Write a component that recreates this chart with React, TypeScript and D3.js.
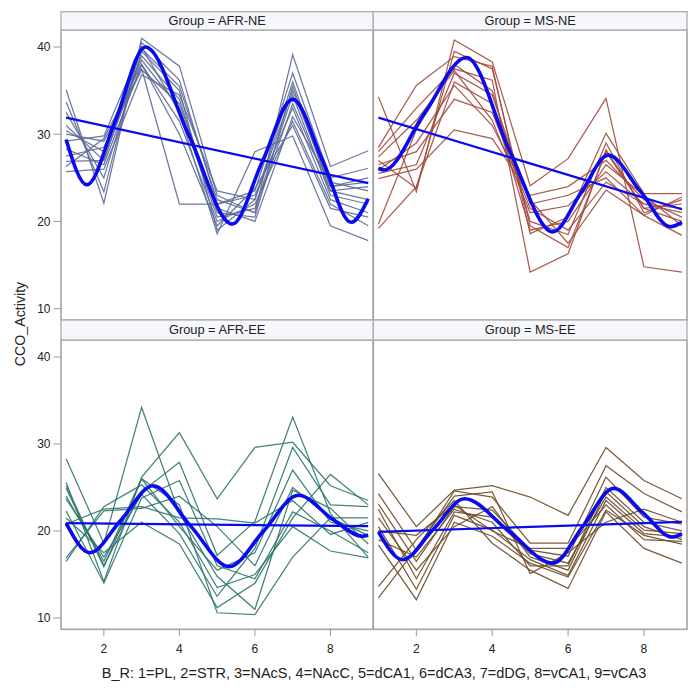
import React from "react";
import * as d3 from "d3";

// ---------- data ----------
const xValues = [1, 2, 3, 4, 5, 6, 7, 8, 9];
const groupNames = ["AFR-NE", "MS-NE", "AFR-EE", "MS-EE"];
const groupColors = ["#5d6a97", "#a24a3e", "#2d766b", "#6a4a26"];
const yTicks = [10, 20, 30, 40];
const xTicks = [2, 4, 6, 8];
const xAxisTitle =
  "B_R: 1=PL, 2=STR, 3=NAcS, 4=NAcC, 5=dCA1, 6=dCA3, 7=dDG, 8=vCA1, 9=vCA3";
const yAxisTitle = "CCO_Activity";

// subject profiles (values at B_R = 1..9)
const afrNE = [
  [35.1, 22.1, 41.0, 37.8, 23.0, 21.0, 39.1, 26.3, 28.1],
  [33.7, 23.4, 40.5, 36.2, 22.0, 23.5, 37.0, 25.0, 26.1],
  [32.5, 25.0, 39.5, 35.0, 19.0, 22.5, 36.0, 24.0, 25.0],
  [31.0, 27.0, 39.0, 34.0, 21.0, 20.5, 35.5, 23.5, 24.0],
  [30.4, 28.0, 38.5, 33.0, 20.5, 21.5, 34.5, 23.0, 22.0],
  [30.0, 29.2, 37.5, 22.0, 22.0, 23.0, 33.0, 22.5, 21.0],
  [29.2, 29.8, 40.0, 32.5, 18.6, 28.0, 29.8, 19.5, 17.8],
  [28.3, 26.5, 38.0, 31.5, 20.0, 22.0, 31.5, 22.0, 19.5],
  [27.5, 28.5, 37.4, 33.5, 21.5, 20.0, 32.0, 24.5, 23.5],
  [26.9, 27.0, 39.8, 35.5, 22.5, 21.0, 33.5, 23.5, 22.5],
  [26.3, 29.5, 38.0, 30.0, 19.5, 23.8, 31.0, 21.5, 20.5],
  [25.7, 26.0, 36.8, 34.5, 23.5, 22.5, 35.0, 24.0, 24.5],
];
const msNE = [
  [34.3, 23.4, 40.8, 38.3, 24.1, 27.2, 34.1, 14.8, 14.2],
  [28.5, 35.6, 38.9, 37.8, 18.6, 20.5, 30.1, 23.2, 23.2],
  [28.0, 33.0, 37.5, 36.2, 14.2, 16.3, 28.2, 21.5, 22.0],
  [27.4, 31.6, 37.3, 31.6, 21.0, 21.8, 25.7, 22.0, 21.0],
  [25.9, 29.0, 35.6, 31.0, 22.5, 17.5, 23.6, 20.7, 18.4],
  [24.9, 26.0, 30.5, 29.5, 23.0, 24.0, 27.0, 22.5, 20.5],
  [19.7, 30.5, 38.0, 35.0, 20.0, 18.5, 29.0, 21.0, 22.5],
  [19.2, 24.0, 36.0, 33.5, 19.0, 20.0, 26.5, 23.0, 19.5],
  [26.5, 28.0, 34.0, 32.5, 21.5, 19.0, 24.5, 22.0, 21.5],
  [27.0, 23.8, 39.5, 37.5, 19.5, 17.0, 28.0, 21.5, 20.0],
  [25.5, 26.5, 37.0, 34.5, 22.0, 23.0, 25.0, 20.7, 22.8],
];
const afrEE = [
  [28.3, 18.6, 34.2, 22.0, 14.8, 11.0, 24.7, 22.6, 18.5],
  [25.6, 14.2, 26.2, 31.3, 23.7, 29.6, 30.2, 25.2, 23.5],
  [25.2, 16.0, 24.5, 27.9, 17.2, 21.1, 33.1, 22.0, 17.0],
  [24.9, 15.9, 26.0, 23.0, 10.6, 10.4, 17.0, 21.5, 21.5],
  [23.7, 17.0, 24.2, 19.7, 12.5, 18.0, 29.6, 23.0, 22.8],
  [22.3, 14.0, 23.8, 25.8, 16.0, 14.5, 22.2, 20.0, 17.5],
  [20.8, 22.5, 22.8, 21.5, 21.4, 20.9, 23.5, 19.6, 21.0],
  [16.9, 22.3, 22.6, 24.0, 20.5, 16.0, 25.0, 21.5, 19.5],
  [16.5, 22.8, 25.3, 21.0, 13.5, 15.0, 20.5, 17.7, 16.9],
  [21.5, 17.5, 21.0, 18.5, 11.2, 14.0, 21.5, 26.5, 23.0],
  [24.0, 16.5, 26.0, 20.5, 15.5, 17.5, 27.0, 21.0, 20.0],
];
const msEE = [
  [26.6, 20.5, 24.7, 25.2, 23.9, 21.8, 29.6, 25.8, 23.7],
  [24.3, 17.8, 24.6, 23.9, 18.6, 18.6, 27.5, 24.3, 22.2],
  [23.1, 16.5, 22.8, 22.4, 17.8, 17.1, 26.2, 21.6, 20.8],
  [22.5, 14.5, 22.2, 21.6, 17.4, 16.3, 23.9, 20.1, 19.7],
  [20.5, 13.3, 21.8, 20.1, 16.7, 14.9, 23.5, 19.7, 19.3],
  [18.4, 12.1, 21.0, 19.4, 16.3, 14.7, 22.4, 19.5, 18.5],
  [13.6, 19.0, 23.5, 18.6, 15.5, 13.4, 22.2, 18.0, 16.3],
  [12.3, 18.0, 24.0, 24.5, 15.1, 17.5, 21.0, 22.5, 21.0],
  [19.0, 17.0, 22.5, 21.0, 16.0, 16.0, 25.0, 21.0, 20.0],
  [21.5, 15.5, 20.5, 22.8, 17.0, 15.5, 24.5, 20.5, 19.0],
  [20.0, 19.5, 23.0, 20.0, 18.0, 18.0, 23.0, 19.0, 18.8],
];
const subjects = [afrNE, msNE, afrEE, msEE];

// penalized spline fit (knot positions and fitted values)
const splineX = [
  [1, 1.55, 2.3, 3.1, 4.25, 5.4, 6.2, 7.0, 7.8, 8.55, 9],
  [1, 1.15, 2.2, 3.32, 4.45, 5.6, 6.33, 7.06, 7.9, 8.7, 9],
  [1, 1.63, 2.46, 3.3, 4.31, 5.32, 6.23, 7.15, 8.1, 8.85, 9],
  [1, 1.64, 2.45, 3.27, 4.43, 5.6, 6.4, 7.2, 7.97, 8.75, 9],
];
const splineY = [
  [29.4, 24.2, 31.5, 40.0, 29.9, 19.7, 26.9, 34.0, 26.9, 19.9, 22.6],
  [26.1, 25.9, 32.3, 38.8, 28.2, 18.8, 23.2, 27.6, 23.5, 19.4, 19.9],
  [20.9, 17.5, 21.3, 25.2, 20.5, 15.9, 20.0, 24.1, 21.2, 19.4, 19.5],
  [19.9, 16.7, 20.2, 23.7, 20.0, 16.3, 20.6, 24.9, 22.1, 19.3, 19.7],
];
// linear regression fit at B_R = 1 and 9
const regStart = [31.9, 31.9, 20.9, 19.9];
const regEnd = [24.4, 21.4, 20.55, 21.05];

// ---------- layout ----------
const W = 700;
const H = 698;
const colX = [61, 373.3, 687];
const rowHeader = [
  [11.7, 30],
  [320, 340],
];
const rowPlot = [
  [30, 320],
  [340, 629.3],
];
const yDomain = [8.7, 41.95];
const xDomain = [0.865, 9.135];
const FONT = "'Liberation Sans', Arial, sans-serif";

function Panel({ idx }: { idx: number }) {
  const col = idx % 2;
  const row = Math.floor(idx / 2);
  const x0 = colX[col];
  const x1 = colX[col + 1];
  const [y0, y1] = rowPlot[row];
  const [h0, h1] = rowHeader[row];
  const xs = d3.scaleLinear().domain(xDomain).range([x0, x1]);
  const ys = d3.scaleLinear().domain(yDomain).range([y1, y0]);
  const line = d3
    .line<number>()
    .x((_, i) => xs(xValues[i]))
    .y((d) => ys(d));
  const smooth = d3
    .line<number>()
    .x((_, i) => xs(splineX[idx][i]))
    .y((d) => ys(d))
    .curve(d3.curveMonotoneX);
  const reg = d3
    .line<[number, number]>()
    .x((d) => xs(d[0]))
    .y((d) => ys(d[1]));
  const clipId = `clip${idx}`;
  return (
    <g>
      <defs>
        <clipPath id={clipId}>
          <rect x={x0} y={y0} width={x1 - x0} height={y1 - y0} />
        </clipPath>
      </defs>
      <rect x={x0} y={y0} width={x1 - x0} height={y1 - y0} fill="#fff" />
      <g clipPath={`url(#${clipId})`}>
        {subjects[idx].map((s, i) => (
          <path
            key={i}
            d={line(s) || ""}
            fill="none"
            stroke={groupColors[idx]}
            strokeWidth={1.25}
            strokeOpacity={0.9}
          />
        ))}
        <path
          d={
            reg([
              [xValues[0], regStart[idx]],
              [xValues[xValues.length - 1], regEnd[idx]],
            ]) || ""
          }
          fill="none"
          stroke="#0a0af0"
          strokeWidth={2.2}
        />
        <path
          d={smooth(splineY[idx]) || ""}
          fill="none"
          stroke="#0a0af0"
          strokeWidth={3.6}
          strokeLinejoin="round"
        />
      </g>
      <rect
        x={x0}
        y={y0}
        width={x1 - x0}
        height={y1 - y0}
        fill="none"
        stroke="#a3a3a3"
        strokeWidth={1.6}
      />
      <rect
        x={x0}
        y={h0}
        width={x1 - x0}
        height={h1 - h0}
        fill="#f5f7fc"
        stroke="#b3b3b3"
        strokeWidth={1.4}
      />
      <text
        x={(x0 + x1) / 2}
        y={(h0 + h1) / 2 + 4.4}
        textAnchor="middle"
        fontFamily={FONT}
        fontSize={12.8}
        fill="#222"
      >
        {`Group = ${groupNames[idx]}`}
      </text>
      {col === 0 &&
        yTicks.map((t) => (
          <g key={t}>
            <line
              x1={x0 - 7.5}
              x2={x0}
              y1={ys(t)}
              y2={ys(t)}
              stroke="#9a9a9a"
              strokeWidth={1}
            />
            <text
              x={x0 - 10.5}
              y={ys(t) + 4.3}
              textAnchor="end"
              fontFamily={FONT}
              fontSize={12}
              fill="#222"
            >
              {t}
            </text>
          </g>
        ))}
      {row === 1 &&
        xTicks.map((t) => (
          <g key={t}>
            <line
              x1={xs(t)}
              x2={xs(t)}
              y1={y1}
              y2={y1 + 7}
              stroke="#9a9a9a"
              strokeWidth={1}
            />
            <text
              x={xs(t)}
              y={y1 + 24}
              textAnchor="middle"
              fontFamily={FONT}
              fontSize={12}
              fill="#222"
            >
              {t}
            </text>
          </g>
        ))}
    </g>
  );
}

export default function App() {
  return (
    <svg
      width={W}
      height={H}
      style={{ position: "absolute", left: 0, top: 0, background: "#fff" }}
    >
      <rect width={W} height={H} fill="#fff" />
      {[0, 1, 2, 3].map((i) => (
        <Panel key={i} idx={i} />
      ))}
      <text
        x={(colX[0] + colX[2]) / 2}
        y={678}
        textAnchor="middle"
        fontFamily={FONT}
        fontSize={14.5}
        fill="#222"
      >
        {xAxisTitle}
      </text>
      <text
        transform={`translate(24.5,324) rotate(-90)`}
        textAnchor="middle"
        fontFamily={FONT}
        fontSize={14.2}
        fill="#222"
      >
        {yAxisTitle}
      </text>
    </svg>
  );
}
